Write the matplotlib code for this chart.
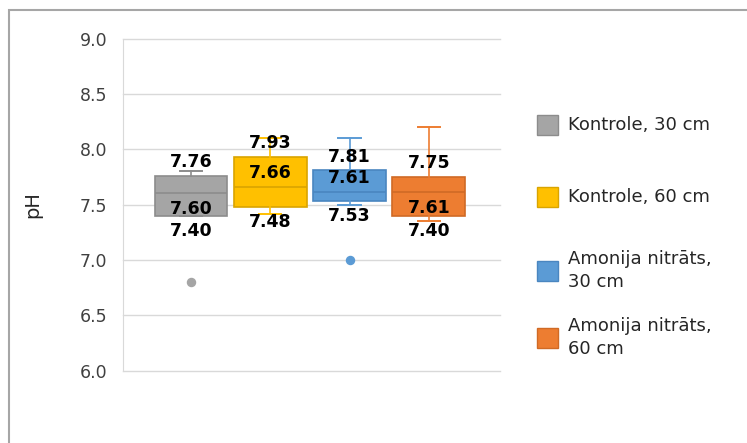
import matplotlib
matplotlib.use("Agg")
import matplotlib.pyplot as plt
from matplotlib.patches import Rectangle

# ---- data ----
series = ["Kontrole, 30 cm", "Kontrole, 60 cm", "Amonija nitrāts,\n30 cm", "Amonija nitrāts,\n60 cm"]
q1 = [7.40, 7.48, 7.53, 7.40]
med = [7.60, 7.66, 7.61, 7.61]
q3 = [7.76, 7.93, 7.81, 7.75]
whis_lo = [7.40, 7.41, 7.50, 7.35]
whis_hi = [7.80, 8.10, 8.10, 8.20]
outliers = [[6.80], [], [7.00], []]
yticks = [6.0, 6.5, 7.0, 7.5, 8.0, 8.5, 9.0]

# ---- styles ----
fills = ["#A5A5A5", "#FFC000", "#5B9BD5", "#ED7D31"]
edges = ["#8C8C8C", "#D9A400", "#4A86C0", "#D06A25"]
median_above = [False, True, True, False]

W, H = 747, 443
fig = plt.figure(figsize=(W / 100, H / 100), dpi=100)
ax = fig.add_axes([123 / W, 1 - 370.5 / H, 377 / W, 332 / H])

stats = []
for i in range(len(series)):
    stats.append(dict(med=med[i], q1=q1[i], q3=q3[i], whislo=whis_lo[i],
                      whishi=whis_hi[i], fliers=outliers[i], label=series[i]))

positions = list(range(1, len(series) + 1))
bp = ax.bxp(stats, positions=positions, widths=0.92, patch_artist=True,
            showfliers=True, manage_ticks=False)
for i in range(len(series)):
    b = bp["boxes"][i]
    b.set_facecolor(fills[i]); b.set_edgecolor(edges[i]); b.set_linewidth(1.2)
    bp["medians"][i].set_color(edges[i]); bp["medians"][i].set_linewidth(1.2)
    for w in bp["whiskers"][2 * i:2 * i + 2]:
        w.set_color(fills[i] if i != 0 else edges[i]); w.set_linewidth(1.2)
    for c in bp["caps"][2 * i:2 * i + 2]:
        c.set_color(fills[i] if i != 0 else edges[i]); c.set_linewidth(1.4)
        xd = c.get_xdata()
        cx = (xd[0] + xd[1]) / 2
        c.set_xdata([cx - 0.14, cx + 0.14])
    f = bp["fliers"][i]
    f.set_marker("o"); f.set_markersize(5.8)
    f.set_markerfacecolor(fills[i]); f.set_markeredgecolor(fills[i])

# data labels
lab_kw = dict(ha="center", va="center", fontsize=12.5, fontweight="bold",
              color="black", textcoords="offset points", zorder=5)
for i, p in enumerate(positions):
    ax.annotate(f"{q3[i]:.2f}", (p, q3[i]), xytext=(0, 9.7), **lab_kw)
    ax.annotate(f"{q1[i]:.2f}", (p, q1[i]), xytext=(0, -10.8), **lab_kw)
    off = 10.2 if median_above[i] else -11.5
    ax.annotate(f"{med[i]:.2f}", (p, med[i]), xytext=(0, off), **lab_kw)

ax.set_ylim(6.0, 9.0)
ax.set_xlim(0.1425, 4.897)
ax.set_yticks(yticks)
ax.set_yticklabels([f"{v:.1f}" for v in yticks])
ax.set_xticks([])
ax.tick_params(axis="y", length=0, pad=11.5, labelsize=12.5, labelcolor="#404040")
ax.grid(axis="y", color="#D9D9D9", linewidth=1)
for gl in ax.get_ygridlines():
    gl.set_clip_on(False)
ax.set_axisbelow(True)
for s in ["top", "right", "bottom"]:
    ax.spines[s].set_visible(False)
ax.spines["left"].set_color("#D9D9D9")
ax.set_ylabel("pH", fontsize=14, color="#262626")
ax.yaxis.set_label_coords(-0.215, 0.5)

# legend (manual placement, matching Excel layout)
leg_y = [125, 197, 270.5, 337.5]
for i, lab in enumerate(series):
    fig.add_artist(Rectangle((537 / W, 1 - (leg_y[i] + 10) / H), 21 / W, 20 / H,
                             transform=fig.transFigure, facecolor=fills[i],
                             edgecolor=edges[i], linewidth=1))
    fig.text(568 / W, 1 - leg_y[i] / H, lab, ha="left", va="center",
             fontsize=13, color="#262626", linespacing=1.3)

# outer chart frame
fig.add_artist(Rectangle((9 / W, -0.1), 1.0, 1.1 - 10 / H, transform=fig.transFigure,
                         facecolor="none", edgecolor="#A6A6A6", linewidth=1.5,
                         clip_on=False))

fig.savefig("out.png", dpi=100)
